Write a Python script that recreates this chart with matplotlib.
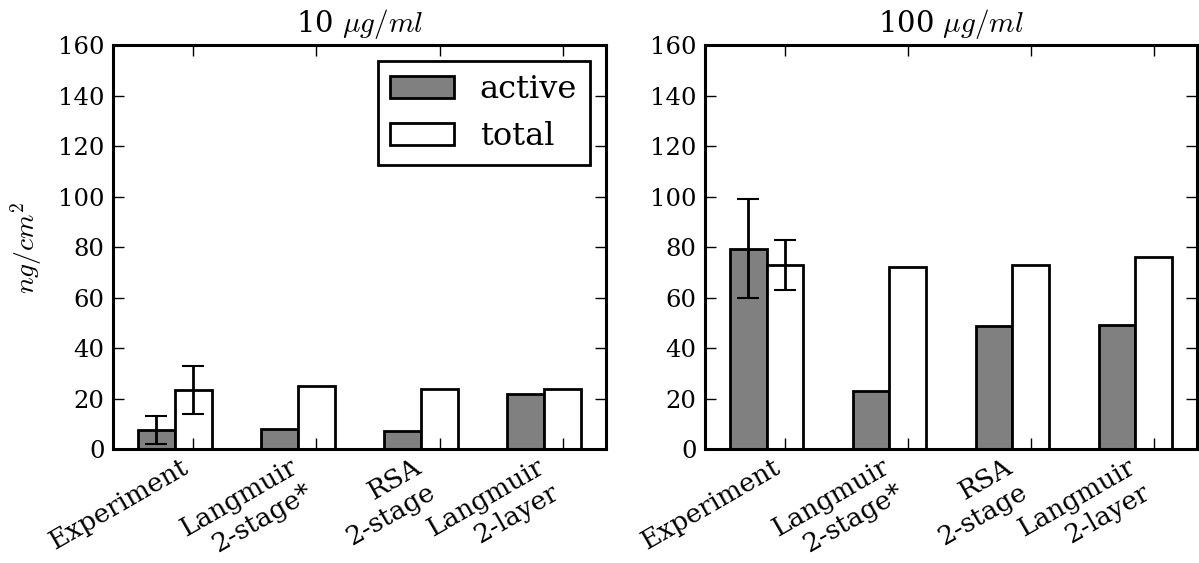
import matplotlib
matplotlib.use('Agg')
import matplotlib.pyplot as plt
import numpy as np

plt.rcParams['font.family'] = 'DejaVu Serif'
plt.rcParams['mathtext.fontset'] = 'cm'

# Adsorbed amounts (ng/cm^2) for each method
methods = ['Experiment', 'Langmuir\n2-stage*', 'RSA\n2-stage', 'Langmuir\n2-layer']

active_10 = [7.5, 7.8, 7.1, 21.7]
total_10 = [23.5, 24.8, 23.9, 23.9]
active_10_err = [5.5, 0, 0, 0]
total_10_err = [9.5, 0, 0, 0]

active_100 = [79.5, 23.0, 48.6, 49.2]
total_100 = [73.0, 72.1, 73.0, 76.1]
active_100_err = [19.5, 0, 0, 0]
total_100_err = [9.9, 0, 0, 0]

ind = np.arange(len(methods))
width = 0.3

fig = plt.figure(figsize=(11.99, 5.63), dpi=100)
ax1 = fig.add_axes([0.0942, 0.2025, 0.4112, 0.7167])
ax2 = fig.add_axes([0.588, 0.2025, 0.4103, 0.7167])


def draw_panel(ax, active, total, active_err, total_err, title):
    ax.bar(ind, active, width, align='edge', color='#808080',
           edgecolor='black', linewidth=2, label='active')
    ax.bar(ind + width, total, width, align='edge', color='white',
           edgecolor='black', linewidth=2, label='total')
    # error bars only where an error is given
    for i in range(len(ind)):
        if active_err[i] > 0:
            ax.errorbar(ind[i] + width / 2, active[i], yerr=active_err[i],
                        fmt='none', ecolor='black', elinewidth=2,
                        capsize=8, capthick=1.5)
        if total_err[i] > 0:
            ax.errorbar(ind[i] + 1.5 * width, total[i], yerr=total_err[i],
                        fmt='none', ecolor='black', elinewidth=2,
                        capsize=8, capthick=1.5)
    ax.set_xlim(-0.2, 3.8)
    ax.set_ylim(0, 160)
    ax.set_yticks(np.arange(0, 161, 20))
    ax.set_xticks(ind + 1.5 * width)
    ax.set_xticklabels(methods, rotation=30, ha='right', fontsize=19)
    ax.tick_params(direction='in', length=8, width=1, top=True, right=True,
                   pad=6)
    ax.tick_params(axis='x', pad=4)
    ax.tick_params(axis='y', labelsize=17.5)
    for s in ax.spines.values():
        s.set_linewidth(2.2)
    ax.set_title(title, fontsize=21, pad=10)


draw_panel(ax1, active_10, total_10, active_10_err, total_10_err,
           r'10 $\mu g/ml$')
draw_panel(ax2, active_100, total_100, active_100_err, total_100_err,
           r'100 $\mu g/ml$')

ax1.set_ylabel(r'$ng/cm^2$', fontsize=20, labelpad=10)
leg = ax1.legend(loc='upper right', fontsize=23, fancybox=False,
                 framealpha=1, borderaxespad=0.5, handlelength=2.0,
                 handleheight=0.7)
leg.get_frame().set_edgecolor('black')
leg.get_frame().set_linewidth(2)

plt.savefig('out.png', dpi=100)
plt.close()
